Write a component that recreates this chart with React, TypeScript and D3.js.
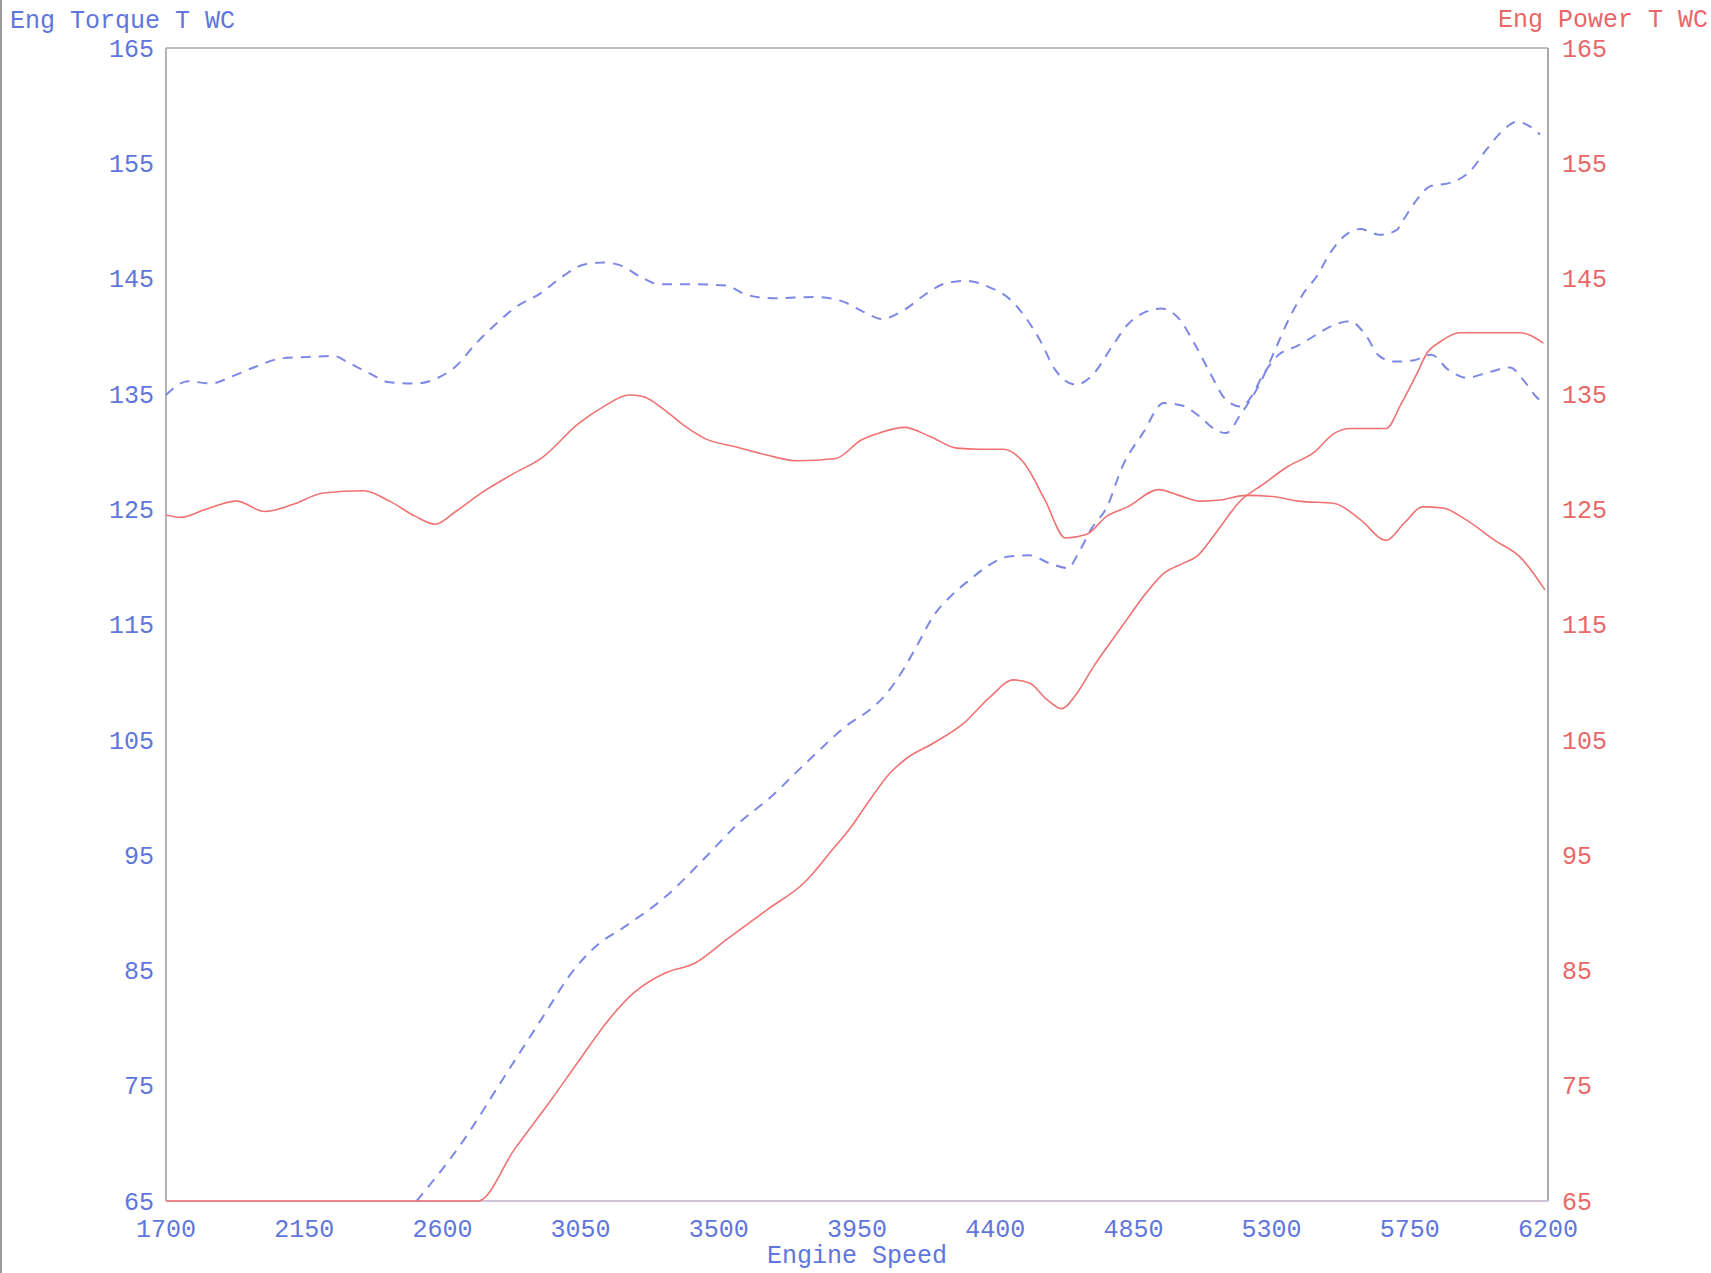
import React from "react";
import * as d3 from "d3";

// ---- data ----
const xTicks = [1700, 2150, 2600, 3050, 3500, 3950, 4400, 4850, 5300, 5750, 6200];
const yTicks = [65, 75, 85, 95, 105, 115, 125, 135, 145, 155, 165];

const torqueA_rpm = [1700,1772,1847,1913,1996,2079,2162,2245,2295,2361,2428,2511,2586,2644,2710,2776,2843,2918,2992,3059,3125,3184,3242,3308,3424,3524,3590,3673,3822,3905,3980,4030,4105,4171,4240,4309,4385,4444,4494,4545,4595,4663,4722,4780,4831,4881,4940,4999,5050,5100,5151,5201,5235,5269,5319,5387,5437,5505,5555,5606,5650,5700,5760,5820,5875,5935,6010,6076,6120,6160,6180];
const torqueA_val = [134.9,136.1,135.9,136.5,137.4,138.1,138.2,138.3,137.7,136.8,136.0,135.9,136.4,137.4,139.4,141.1,142.6,143.7,145.2,146.2,146.4,146.1,145.2,144.5,144.5,144.4,143.6,143.3,143.4,143.0,142.0,141.5,142.3,143.6,144.6,144.8,144.2,143.3,141.8,139.7,137.1,135.8,136.8,139.1,141.0,142.0,142.4,141.5,139.3,136.8,134.5,133.9,134.8,136.5,138.3,139.2,140.0,141.0,141.3,140.1,138.3,137.8,137.9,138.4,137.1,136.4,136.9,137.3,136.2,134.8,134.3];

const powerA_rpm = [2516,2662,2795,2928,3021,3100,3194,3327,3460,3566,3659,3792,3925,3992,4046,4101,4144,4198,4253,4318,4383,4444,4511,4578,4637,4671,4713,4764,4814,4881,4949,5008,5067,5117,5151,5201,5262,5316,5360,5403,5447,5490,5533,5588,5653,5707,5729,5772,5816,5881,5946,6000,6055,6098,6141,6174];
const powerA_val = [65.0,70.0,75.5,81.0,84.8,87.1,88.8,91.4,94.9,97.8,99.8,103.2,106.4,107.6,109.0,111.1,113.1,115.7,117.4,118.9,120.2,120.9,121.0,120.3,119.9,121.2,123.3,125.2,128.7,131.6,134.2,134.0,133.0,131.9,131.6,133.3,135.9,139.1,141.7,143.7,145.2,147.2,148.6,149.3,148.8,149.2,150.1,151.8,153.0,153.3,154.3,156.2,157.9,158.6,158.2,157.5];

const torqueB_rpm = [1700,1747,1830,1930,2021,2112,2212,2344,2428,2511,2577,2643,2726,2826,2926,3042,3125,3208,3250,3324,3390,3457,3557,3656,3756,3881,3964,4022,4105,4188,4275,4350,4427,4494,4562,4629,4696,4764,4831,4932,4999,5067,5134,5218,5302,5387,5505,5589,5673,5732,5791,5858,5926,6027,6111,6190];
const torqueB_val = [124.5,124.3,125.0,125.7,124.8,125.4,126.4,126.6,125.7,124.4,123.7,124.8,126.4,128.0,129.5,132.4,133.9,134.9,134.8,133.6,132.2,131.1,130.4,129.7,129.2,129.4,131.0,131.6,132.1,131.3,130.3,130.2,130.2,129.0,125.8,122.5,122.8,124.4,125.2,126.7,126.2,125.7,125.8,126.2,126.1,125.7,125.5,124.1,122.3,123.8,125.2,125.1,124.2,122.3,120.8,118.0];

const powerB_rpm = [1700,2716,2835,2955,3048,3141,3221,3327,3420,3526,3659,3778,3871,3927,3992,4057,4112,4198,4296,4383,4459,4513,4568,4616,4665,4719,4774,4828,4882,4947,5012,5056,5117,5201,5269,5353,5437,5505,5555,5673,5723,5774,5805,5848,5913,6109,6185];
const powerB_val = [65.0,65.0,69.5,73.8,77.3,80.7,83.0,84.8,85.6,87.7,90.3,92.6,95.5,97.3,99.8,102.1,103.4,104.7,106.4,108.7,110.2,109.9,108.5,107.7,109.0,111.3,113.4,115.4,117.4,119.4,120.3,120.9,122.9,125.8,127.1,128.7,129.9,131.6,132.0,132.0,134.2,136.8,138.5,139.5,140.3,140.3,139.4];

const leftTitle = "Eng Torque T WC";
const rightTitle = "Eng Power T WC";
const xTitle = "Engine Speed";

// ---- styles ----
const W = 1711, H = 1273;
const M = { left: 166, right: 1548, top: 48, bottom: 1201 };
const BLUE_TEXT = "#5f76dc";
const RED_TEXT = "#e86868";
const BLUE_LINE = "#7d88e6";
const RED_LINE = "#f07272";
const FONT = "'Liberation Mono', 'Courier New', monospace";
const FS = 25;

function zip(a: number[], b: number[]) {
  return a.map((x, i) => [x, b[i]] as [number, number]);
}

export default function App() {
  const x = d3.scaleLinear().domain([1700, 6200]).range([M.left, M.right]);
  const yL = d3.scaleLinear().domain([65, 165]).range([M.bottom, M.top]);
  const yR = d3.scaleLinear().domain([65, 165]).range([M.bottom, M.top]);

  const lineL = d3.line<[number, number]>().x(d => x(d[0])).y(d => yL(d[1])).curve(d3.curveMonotoneX);
  const lineR = d3.line<[number, number]>().x(d => x(d[0])).y(d => yR(d[1])).curve(d3.curveMonotoneX);

  return (
    <svg width={W} height={H} style={{ position: "absolute", left: 0, top: 0, background: "#fff" }}
      fontFamily={FONT}>
      <rect x={0} y={0} width={W} height={H} fill="#ffffff" />
      {/* scan border on the left edge */}
      <line x1={1} x2={1} y1={0} y2={H} stroke="#9a9a9a" strokeWidth={2} />

      {/* frame */}
      <line x1={M.left} x2={M.right} y1={M.top} y2={M.top} stroke="#c4bcc6" strokeWidth={2} />
      <line x1={M.left} x2={M.left} y1={M.top} y2={M.bottom} stroke="#b4b4b8" strokeWidth={2} />
      <line x1={M.right} x2={M.right} y1={M.top} y2={M.bottom} stroke="#a8a8ac" strokeWidth={2} />
      <line x1={M.left} x2={M.right} y1={M.bottom} y2={M.bottom} stroke="#d2c4d8" strokeWidth={2} />

      {/* titles */}
      <text x={10} y={28} fill={BLUE_TEXT} fontSize={FS}>{leftTitle}</text>
      <text x={1708} y={27} fill={RED_TEXT} fontSize={FS} textAnchor="end">{rightTitle}</text>

      {/* left axis labels */}
      {yTicks.map(t => (
        <text key={"l" + t} x={M.left - 12} y={yL(t)} dy="0.35em" textAnchor="end" fill={BLUE_TEXT} fontSize={FS}>{t}</text>
      ))}
      {/* right axis labels */}
      {yTicks.map(t => (
        <text key={"r" + t} x={M.right + 14} y={yR(t)} dy="0.35em" textAnchor="start" fill={RED_TEXT} fontSize={FS}>{t}</text>
      ))}
      {/* x axis labels */}
      {xTicks.map(t => (
        <text key={"x" + t} x={x(t)} y={1228} dy="0.35em" textAnchor="middle" fill={BLUE_TEXT} fontSize={FS}>{t}</text>
      ))}
      <text x={(M.left + M.right) / 2} y={1263} textAnchor="middle" fill={BLUE_TEXT} fontSize={FS}>{xTitle}</text>

      {/* series */}
      <path d={lineL(zip(torqueA_rpm, torqueA_val)) || ""} fill="none" stroke={BLUE_LINE} strokeWidth={2} strokeDasharray="10,8" />
      <path d={lineR(zip(powerA_rpm, powerA_val)) || ""} fill="none" stroke={BLUE_LINE} strokeWidth={2} strokeDasharray="10,8" />
      <path d={lineL(zip(torqueB_rpm, torqueB_val)) || ""} fill="none" stroke={RED_LINE} strokeWidth={1.6} />
      <path d={lineR(zip(powerB_rpm, powerB_val)) || ""} fill="none" stroke={RED_LINE} strokeWidth={1.6} />
    </svg>
  );
}
